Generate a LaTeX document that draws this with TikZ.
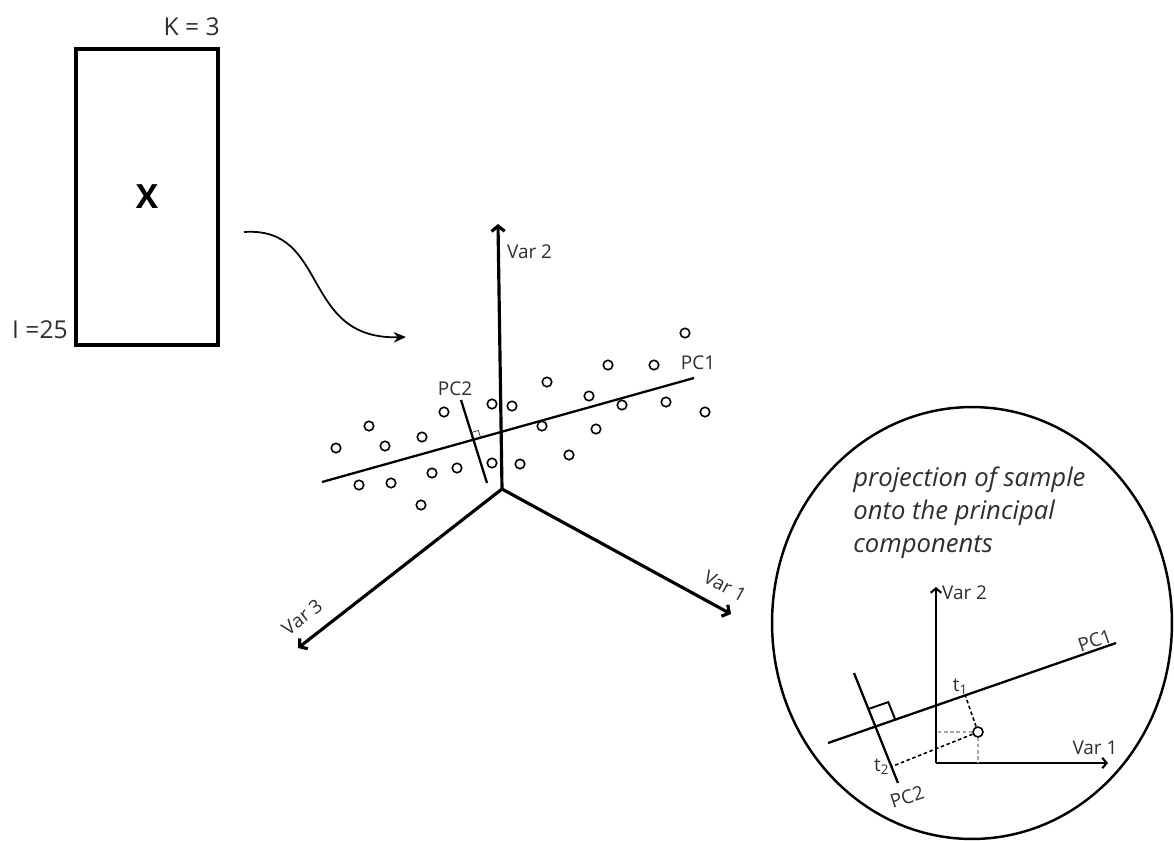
\documentclass[tikz,border=0pt]{standalone}
\usepackage{fontspec}
\setmainfont{Open Sans}
\usetikzlibrary{positioning,arrows.meta,calc}
\definecolor{pcatext}{HTML}{2E2E2E}
\definecolor{pcagrid}{HTML}{A8A8A8}

\begin{document}
\begin{tikzpicture}[x=0.02cm, y=-0.02cm,
  lbl/.style={font=\fontsize{10.8}{12}\selectfont, text=pcatext, inner sep=1pt},
  axis/.style={line width=1.8pt, -{Straight Barb[length=3pt,width=7.5pt]}},
  smallaxis/.style={line width=1.2pt, -{Straight Barb[length=2.5pt,width=6pt]}},
  pcline/.style={line width=1.3pt},
  pt/.style={circle, draw, line width=0.9pt, inner sep=0pt, minimum size=0.19cm},
  projline/.style={line width=0.9pt, dash pattern=on 2pt off 1.5pt},
  gridline/.style={line width=0.9pt, pcagrid, dash pattern=on 2pt off 1.5pt},
]
  \useasboundingbox (0,0) rectangle (1174,840);

  % ---- data matrix ----------------------------------------------------------
  \node[draw, line width=1.9pt, minimum width=2.84cm, minimum height=5.92cm,
        font=\bfseries\fontsize{19}{24}\selectfont] (xmat) at (147,197) {X};
  \node[anchor=base east, inner sep=0, font=\fontsize{14}{16}\selectfont, text=pcatext]
    (kdim) at (220,35) {K = 3};
  \node[anchor=base east, inner sep=0, font=\fontsize{14}{16}\selectfont, text=pcatext]
    (idim) at (68,338) {I =25};

  \coordinate (arrS) at (244,232);
  \coordinate (arrE) at (406,337);
  \draw[line width=1pt, -{Stealth[length=7pt,width=6pt]}]
    (arrS) .. controls (330,226) and (300,340) .. (arrE);

  % ---- variable space -------------------------------------------------------
  \coordinate (O) at (502,489);
  \coordinate (v1end) at (731,614);
  \coordinate (v2end) at (498,224);
  \coordinate (v3end) at (298,648);
  \draw[axis] (O) -- (v2end);
  \draw[axis] (O) -- (v1end);
  \draw[axis] (O) -- (v3end);
  \node[lbl, anchor=west] (v2lab) at (505,252) {Var 2};
  \node[lbl, rotate=-28.5] (v1lab) at (725,586) {Var 1};
  \node[lbl, rotate=38] (v3lab) at (302,617) {Var 3};

  \foreach \px/\py [count=\i] in {685/333, 608/365, 654/365, 547/382, 589/396,
      622/405, 666/402, 705/412, 492/404, 512/406, 444/412, 369/426, 422/437,
      542/426, 596/429, 336/448, 385/446, 492/463, 520/464, 569/455, 457/468,
      432/473, 359/485, 391/483, 421/505}
    \node[pt] (s\i) at (\px,\py) {};

  \coordinate (pc1a) at (322,482);
  \coordinate (pc1b) at (694,378);
  \coordinate (pc2a) at (461,400);
  \coordinate (pc2b) at (487,483);
  \draw[pcline] (pc1a) -- (pc1b);
  \draw[pcline] (pc2a) -- (pc2b);
  \node[lbl] (pc1lab) at (698,363) {PC1};
  \node[lbl] (pc2lab) at (455,389) {PC2};
  \coordinate (ix) at (intersection of pc1a--pc1b and pc2a--pc2b);
  \coordinate (ra1) at ($(ix)!0.15cm!(pc1b)$);
  \coordinate (ra2) at ($(ix)!0.15cm!(pc2a)$);
  \draw[line width=0.4pt, pcatext] (ra1) -- ($(ra1)+(ra2)-(ix)$) -- (ra2);

  % ---- zoomed projection ----------------------------------------------------
  \draw[line width=1.4pt] (972,623) ellipse [x radius=4cm, y radius=4.32cm];
  \node[anchor=north west, align=left, inner sep=0, text=pcatext,
        font=\itshape\fontsize{14.6}{18.7}\selectfont] (caption) at (853,467)
    {projection of sample\\onto the principal\\components};

  \coordinate (o2) at (936,763);
  \coordinate (w1) at (1108,763);
  \coordinate (w2) at (936,587);
  \draw[smallaxis] (o2) -- (w1);
  \draw[smallaxis] (o2) -- (w2);
  \node[lbl, anchor=west] (w2lab) at (940,593) {Var 2};
  \node[lbl] (w1lab) at (1095,748) {Var 1};

  \coordinate (q1a) at (828,743);
  \coordinate (q1b) at (1116,643);
  \coordinate (q2a) at (854,673);
  \coordinate (q2b) at (898,783);
  \draw[pcline] (q1a) -- (q1b);
  \draw[pcline] (q2a) -- (q2b);
  \node[lbl, anchor=south east, rotate=19] (q1lab) at (q1b) {PC1};
  \node[lbl, rotate=18] (q2lab) at (907,797) {PC2};
  \coordinate (ix2) at (intersection of q1a--q1b and q2a--q2b);
  \coordinate (rb1) at ($(ix2)!0.42cm!(q1b)$);
  \coordinate (rb2) at ($(ix2)!0.38cm!(q2a)$);
  \draw[line width=1.1pt] (rb1) -- ($(rb1)+(rb2)-(ix2)$) -- (rb2);

  \node[pt, minimum size=0.2cm] (smp) at (978,732) {};
  \draw[gridline] (smp) -- (smp -| o2);
  \draw[gridline] (smp) -- (smp |- o2);
  \coordinate (t1pt) at ($(q1a)!(smp.center)!(q1b)$);
  \coordinate (t2pt) at ($(q2a)!(smp.center)!(q2b)$);
  \draw[projline] (smp) -- (t1pt);
  \draw[projline] (smp) -- (t2pt);
  \node[lbl, anchor=south east, inner sep=0.5pt] (t1lab) at ([xshift=0.08cm]t1pt) {t\textsubscript{1}};
  \node[lbl, anchor=east, inner sep=1pt] (t2lab) at (t2pt) {t\textsubscript{2}};
\end{tikzpicture}
\end{document}
